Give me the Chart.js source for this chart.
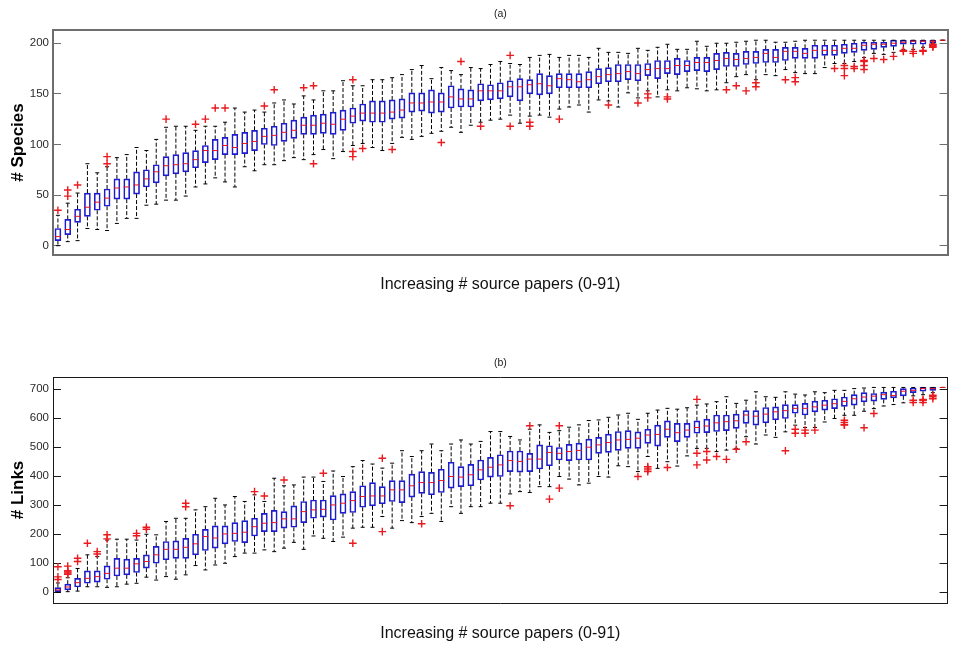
<!DOCTYPE html>
<html><head><meta charset="utf-8">
<script src="https://cdn.jsdelivr.net/npm/chart.js@4.4.1/dist/chart.umd.min.js"></script>
<style>
html,body{margin:0;padding:0;background:#fff;width:953px;height:648px;overflow:hidden;}
.wrap{position:absolute;left:0;}
</style></head><body>
<div class="wrap" style="top:0;width:953px;height:320px;"><canvas id="chartA" width="953" height="320"></canvas></div>
<div class="wrap" style="top:347px;width:953px;height:301px;"><canvas id="chartB" width="953" height="301"></canvas></div>
<script>
// ---------- Panel (a): # Species ----------
const speciesTicks = [0, 50, 100, 150, 200];
const speciesLow = [0,4,5,17,16,15,22,27,27,40, 41,45,45,49,58,61,67,63,58,78, 74,80,80,84,87,85,90,95,86,93, 99,101,97,94,101,107,105,108,111,113, 117,112,119,122,124,125,129,121,128,129, 127,135,137,139,132,144,143,137,151,146, 153,147,154,153,156,155,153,154,161,167, 169,164,169,168,174,171,170,170,176,180, 180,182,186,190,189,191,194,194,196,200, 203];
const speciesQ1 = [5,11,23,29,35,39,46,46,51,58, 62,69,71,73,77,82,85,90,90,91, 94,100,99,103,106,110,110,111,110,114, 121,123,122,122,125,126,132,133,131,132, 136,137,137,143,144,145,147,143,150,149, 150,156,156,156,156,160,162,162,164,163, 168,165,170,169,172,173,172,174,177,177, 179,180,181,181,183,185,185,185,188,188, 190,191,193,194,196,197,199,199,199,200, 203];
const speciesMedian = [9,16,29,38,43,47,57,58,60,66, 73,79,80,81,85,94,94,99,97,101, 103,108,109,112,114,119,119,121,120,125, 128,131,131,131,132,134,141,141,142,142, 147,145,145,153,153,153,157,157,159,160, 158,165,164,162,164,167,169,170,172,170, 174,175,175,178,178,181,181,183,185,184, 185,186,190,186,192,192,190,193,193,193, 195,195,198,199,199,200,201,202,202,202, 203];
const speciesQ3 = [17,26,36,52,52,56,66,66,73,75, 80,88,90,92,94,99,105,107,110,112, 114,116,118,121,124,127,129,130,132,134, 136,140,143,143,144,145,151,151,154,151, 158,155,154,160,159,161,163,165,164,170, 168,170,170,170,172,175,176,179,179,179, 180,183,183,185,183,186,186,190,191,190, 192,192,194,194,196,196,195,198,198,198, 199,200,201,201,201,203,203,203,203,203, 203];
const speciesHigh = [30,42,52,81,72,78,87,90,97,94, 105,117,118,118,114,118,118,122,136,132, 134,132,141,144,140,148,144,153,153,163, 158,158,164,164,166,169,174,178,165,176, 173,169,176,175,179,182,180,179,186,188, 189,186,188,188,186,195,191,191,190,195, 193,196,199,194,194,202,197,200,200,201, 202,203,203,201,201,202,203,203,203,203, 203,203,203,203,203,203,203,203,203,203, 203];
const speciesOutliers = [
  [35],[49,55],[60],[],[],[81,88],[],[],[],[],
  [],[125],[],[],[120],[125],[136],[136],[],[],
  [],[138],[154],[],[],[156],[158,81],[],[],[],
  [164,93,88],[96],[],[],[95],[],[],[],[],[102],
  [],[182],[],[118],[],[],[188,118],[],[122,118],[],
  [],[125],[],[],[],[],[139],[],[],[141],
  [150,146],[],[147,145],[],[],[],[],[],[154],[158],
  [153],[161,157],[],[],[164],[166,162],[],[],[],[175],
  [178,175,168],[177,175],[183,182,178,174],[185],[184],[187],[192,193],[192,190],[193,192],[198,197,196,199],
  []
];

// ---------- Panel (b): # Links ----------
const linksTicks = [0, 100, 200, 300, 400, 500, 600, 700];
const linksLow = [0,2,4,19,19,17,19,28,31,52, 42,54,45,60,92,77,94,100,123,135, 135,146,140,152,172,148,194,186,175,190, 221,224,224,261,221,247,240,261,272,244, 295,272,295,295,307,307,339,347,344,364, 364,399,390,370,376,399,397,436,433,416, 468,427,450,435,470,496,496,485,490,496, 536,511,542,534,553,576,568,568,587,599, 610,610,624,633,642,647,653,677,681,688, 706];
const linksQ1 = [2,8,18,31,35,45,56,60,68,83, 100,112,117,117,129,144,152,167,175,171, 194,209,209,221,224,240,255,259,249,272, 275,293,298,305,313,309,328,341,336,344, 359,364,367,387,397,399,416,414,416,425, 436,456,454,456,456,479,482,489,496,496, 513,504,534,519,534,548,550,554,557,565, 582,576,584,594,599,617,611,622,628,633, 641,645,656,659,665,670,677,688,693,696, 706];
const linksMedian = [8,18,33,48,54,65,83,83,98,106, 129,148,148,155,167,192,187,201,203,207, 226,238,240,253,253,278,284,286,301,307, 316,330,332,332,353,353,367,378,378,385, 399,397,405,422,431,439,454,451,459,459, 482,479,485,489,500,508,516,525,527,531, 542,544,562,550,559,568,573,584,588,591, 611,607,614,622,626,634,634,639,645,650, 658,667,673,676,681,678,693,696,702,702, 706];
const linksQ3 = [16,28,48,74,74,91,117,114,117,129, 158,175,177,186,200,217,229,229,240,247, 255,272,282,278,298,313,318,318,333,339, 347,367,378,364,385,385,407,416,413,424, 448,433,441,456,465,474,487,487,479,508, 505,499,510,514,528,534,545,554,557,553, 562,576,591,582,582,591,597,611,611,614, 626,626,637,639,647,647,651,659,662,667, 673,681,688,685,690,693,702,704,706,706, 706];
const linksHigh = [32,50,82,129,123,180,183,183,180,200, 198,244,255,255,284,295,324,301,330,313, 336,313,393,367,370,397,397,382,418,399, 433,454,442,428,445,488,468,488,511,488, 511,525,511,520,554,554,537,525,562,577, 551,557,569,577,592,594,603,611,617,596, 617,628,634,631,636,645,649,657,674,651, 662,691,674,672,691,683,680,691,688,696, 696,702,704,706,706,706,706,706,706,706, 706];
const linksOutliers = [
  [44,53,88],[62,66,70,74,90],[106,117],[169],[132,140],[184,198],[],[],[195,203],[217,224],
  [],[],[],[295,307],[],[],[],[],[],[],
  [347],[332],[],[387],[],[],[],[410],[],[],
  [169],[],[],[462,209],[],[],[],[236],[],[],
  [],[],[],[],[],[],[298],[],[574],[],
  [321],[574,359],[],[],[],[],[],[],[],[399],
  [433,428,422,416],[],[430],[],[],[665,479,439],[485,456],[468],[458],[493],
  [519],[],[],[],[488],[562,548],[559,548],[559],[],[],
  [593,585,578,576],[],[567],[616],[],[],[],[662,654],[665,662,654],[679,674,667],
  []
];

const xLabel = 'Increasing # source papers (0-91)';
const SANS = "'Liberation Sans',Arial,Helvetica,sans-serif";

function buildChart(id, p) {
  const n = p.median.length;
  const boxes = [], meds = [], caps = [], whisk = [], outs = [];
  for (let i = 0; i < n; i++) {
    const x = i + 1;
    boxes.push({x: x, y: [p.q1[i], p.q3[i]]});
    meds.push({x: x, y: p.median[i]});
    caps.push({x: x, y: p.high[i]}, {x: x, y: p.low[i]});
    whisk.push({x: x, y: p.q3[i]}, {x: x, y: p.high[i]}, {x: x, y: null},
               {x: x, y: p.q1[i]}, {x: x, y: p.low[i]}, {x: x, y: null});
    p.outliers[i].forEach(v => outs.push({x: x, y: v}));
  }
  const setTicks = s => { s.ticks = p.ticks.map(v => ({value: v})); };
  const yCommon = {type: 'linear', min: p.yMin, max: p.yMax, afterBuildTicks: setTicks};
  return new Chart(document.getElementById(id), {
    type: 'scatter',
    data: {datasets: [
      {type: 'line', data: whisk, borderColor: '#000', borderWidth: 1, borderDash: [4, 2],
       pointRadius: 0, spanGaps: false, fill: false, tension: 0, order: 5},
      {type: 'bar', data: boxes, backgroundColor: 'rgba(0,0,0,0)', borderColor: '#1c1ccc',
       borderWidth: 1, borderSkipped: false, barThickness: 6, order: 4},
      {type: 'scatter', data: caps, pointStyle: 'line', pointRadius: 2, pointBorderColor: '#000',
       borderColor: '#000', pointBorderWidth: 1, order: 3},
      {type: 'scatter', data: meds, pointStyle: 'line', pointRadius: 3, pointBorderColor: '#e8141c',
       borderColor: '#e8141c', pointBorderWidth: 1, order: 2},
      {type: 'scatter', data: outs, pointStyle: 'cross', pointRadius: 3.8, pointBorderColor: '#ea1a1f',
       borderColor: '#ea1a1f', pointBorderWidth: 1.4, order: 1}
    ]},
    options: {
      responsive: false, animation: false, devicePixelRatio: 1,
      layout: {padding: 0},
      events: [],
      plugins: {legend: {display: false}, tooltip: {enabled: false}},
      scales: {
        x: {type: 'linear', position: 'bottom', min: 0.5, max: n + 0.5, offset: false,
            grid: {display: false}, ticks: {display: false},
            border: {display: true, color: p.boxColor, width: p.boxWidth},
            title: {display: true, text: xLabel, color: '#111',
                    font: {family: SANS, size: 16}, padding: {top: 0, bottom: p.xTitlePad}},
            afterFit: s => { s.height = p.bottomH; }},
        xTop: {type: 'linear', position: 'top', min: 0.5, max: n + 0.5, offset: false,
            grid: {display: false}, ticks: {display: false},
            border: {display: true, color: p.boxColor, width: p.boxWidth},
            title: {display: true, text: p.title, color: '#222',
                    font: {family: SANS, size: 10.5}, padding: {top: p.titlePad, bottom: 0}},
            afterFit: s => { s.height = 30; }},
        y: Object.assign({}, yCommon, {position: 'left',
            grid: {drawOnChartArea: false, drawTicks: true, tickLength: -8, color: p.boxColor, lineWidth: 1},
            border: {display: true, color: p.boxColor, width: p.boxWidth},
            ticks: {padding: 12, color: '#2a2a2a', font: {family: SANS, size: 11.5}},
            title: {display: true, text: p.yLabel, color: '#000',
                    font: {family: SANS, size: 17, weight: 'bold'}, padding: {top: 8, bottom: 0}},
            afterFit: s => { s.width = 53; }}),
        yRight: Object.assign({}, yCommon, {position: 'right',
            grid: {drawOnChartArea: false, drawTicks: true, tickLength: -8, color: p.boxColor, lineWidth: 1},
            border: {display: true, color: p.boxColor, width: p.boxWidth},
            ticks: {display: false},
            afterFit: s => { s.width = 3; }})
      }
    }
  });
}

buildChart('chartA', {
  low: speciesLow, q1: speciesQ1, median: speciesMedian, q3: speciesQ3, high: speciesHigh,
  outliers: speciesOutliers, ticks: speciesTicks, yMin: -9.2, yMax: 213.1,
  title: '(a)', yLabel: '# Species', titlePad: 7.7, bottomH: 65, xTitlePad: 25.4,
  boxColor: '#6e6e6e', boxWidth: 2
});
buildChart('chartB', {
  low: linksLow, q1: linksQ1, median: linksMedian, q3: linksQ3, high: linksHigh,
  outliers: linksOutliers, ticks: linksTicks, yMin: -37, yMax: 742,
  title: '(b)', yLabel: '# Links', titlePad: 9.7, bottomH: 45, xTitlePad: 4.4,
  boxColor: '#1a1a1a', boxWidth: 1
});
</script>
</body></html>
